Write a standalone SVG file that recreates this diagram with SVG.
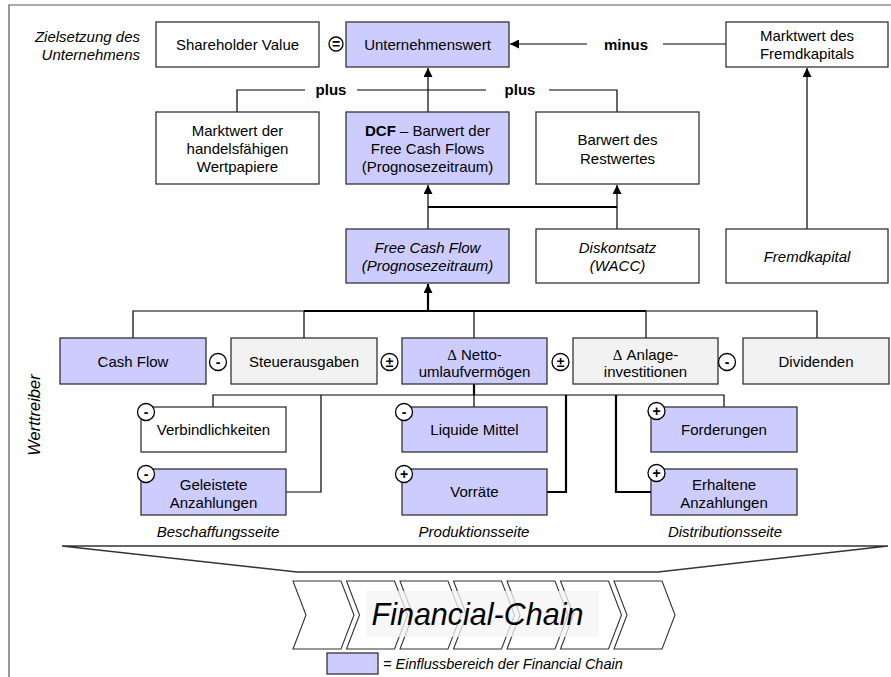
<svg xmlns="http://www.w3.org/2000/svg" width="891" height="677" viewBox="0 0 891 677">
<defs>
<marker id="ar" markerUnits="userSpaceOnUse" markerWidth="10" markerHeight="9" refX="9" refY="4.5" orient="auto">
<path d="M0,0 L9,4.5 L0,9 z" fill="#000"/>
</marker>
<style>
.bx{stroke:#333;stroke-width:1.3}
.p{fill:#ccccff}
.w{fill:#fff}
.g{fill:#f2f2f2}
text{font-family:"Liberation Sans",Arial,sans-serif;font-size:15px;fill:#000}
.t{text-anchor:middle}
.i{font-style:italic}
.b{font-weight:bold}
.d{font-family:"Liberation Serif","Times New Roman",serif}
.ln{fill:none;stroke:#000;stroke-width:1.2}
.th{fill:none;stroke:#000;stroke-width:2.2}
.sg circle{fill:#fff;stroke:#000;stroke-width:1.3}
.sg text{font-size:14px;font-weight:bold;text-anchor:middle}
.ch{fill:#fff;stroke:#333;stroke-width:1.1}
</style>
</defs>
<rect width="891" height="677" fill="#fff"/>
<path d="M9,677 V5 H891" fill="none" stroke="#555" stroke-width="1.2"/>

<text class="i" x="140" y="42" text-anchor="end">Zielsetzung des</text>
<text class="i" x="140" y="59.5" text-anchor="end">Unternehmens</text>
<text class="i" transform="translate(40,415) rotate(-90)" text-anchor="middle" style="font-size:16.5px">Werttreiber</text>

<g id="connectors">
<path class="ln" d="M587,44 H510" marker-end="url(#ar)"/>
<path class="ln" d="M663,44 H726"/>
<path class="ln" d="M237,112 V90 H305"/>
<path class="ln" d="M357,90 H486"/>
<path class="ln" d="M549,90 H617 V112"/>
<path class="ln" d="M428,112 V68" marker-end="url(#ar)"/>
<path class="ln" d="M807,229 V68" marker-end="url(#ar)"/>
<path class="ln" d="M428,229 V185" marker-end="url(#ar)"/>
<path class="ln" d="M617,229 V185" marker-end="url(#ar)"/>
<path class="th" d="M428,207 H617"/>
<path class="th" d="M428,311 V284" marker-end="url(#ar)"/>
<path class="ln" d="M133,338 V311 H304"/>
<path class="th" d="M304,311 H646"/>
<path class="ln" d="M646,311 H817 V338"/>
<path class="ln" d="M304,311 V338"/>
<path class="ln" d="M474,311 V338"/>
<path class="ln" d="M646,311 V338"/>
<path class="th" d="M474,384 V395"/>
<path class="ln" d="M213,407 V395 H724 V407"/>
<path class="ln" d="M474,395 V407"/>
<path class="ln" d="M321,395 V492 H286"/>
<path class="th" d="M566,395 V492 H547"/>
<path class="th" d="M616,395 V492 H651"/>
</g>

<text class="b t" x="626" y="49.5">minus</text>
<text class="b t" x="331" y="95">plus</text>
<text class="b t" x="520" y="95">plus</text>

<g id="n-shareholder"><rect class="bx w" x="156" y="22" width="163" height="45"/><text class="t" x="237.5" y="49.5">Shareholder Value</text></g>
<g id="s-eq" class="sg"><circle cx="336" cy="44" r="7"/><text x="336" y="48.5">=</text></g>
<g id="n-uwert"><rect class="bx p" x="346" y="22" width="163" height="45"/><text class="t" x="427.5" y="49.5">Unternehmenswert</text></g>
<g id="n-mwfk"><rect class="bx w" x="726" y="22" width="162" height="45"/><text class="t" x="807" y="41">Marktwert des</text><text class="t" x="807" y="59">Fremdkapitals</text></g>

<g id="n-wertpapiere"><rect class="bx w" x="156" y="112" width="163" height="72"/><text class="t" x="237.5" y="136">Marktwert der</text><text class="t" x="237.5" y="154">handelsfähigen</text><text class="t" x="237.5" y="172">Wertpapiere</text></g>
<g id="n-dcf"><rect class="bx p" x="346" y="112" width="163" height="72"/><text class="t" x="427.5" y="136"><tspan class="b">DCF</tspan> – Barwert der</text><text class="t" x="427.5" y="154">Free Cash Flows</text><text class="t" x="427.5" y="172">(Prognosezeitraum)</text></g>
<g id="n-restwert"><rect class="bx w" x="536" y="112" width="163" height="72"/><text class="t" x="617.5" y="145">Barwert des</text><text class="t" x="617.5" y="163.5">Restwertes</text></g>

<g id="n-fcf"><rect class="bx p" x="346" y="229" width="163" height="54"/><text class="t i" x="427.5" y="253">Free Cash Flow</text><text class="t i" x="427.5" y="270.5">(Prognosezeitraum)</text></g>
<g id="n-wacc"><rect class="bx w" x="536" y="229" width="163" height="54"/><text class="t i" x="617.5" y="253">Diskontsatz</text><text class="t i" x="617.5" y="270.5">(WACC)</text></g>
<g id="n-fk"><rect class="bx w" x="726" y="229" width="162" height="54"/><text class="t i" x="807" y="262">Fremdkapital</text></g>

<g id="n-cashflow"><rect class="bx p" x="60" y="338" width="146" height="46"/><text class="t" x="133" y="366.5">Cash Flow</text></g>
<g class="sg"><circle cx="218" cy="362" r="8.5"/><text x="218" y="367">-</text></g>
<g id="n-steuer"><rect class="bx g" x="231" y="338" width="146" height="46"/><text class="t" x="304" y="366.5">Steuerausgaben</text></g>
<g class="sg"><circle cx="389.5" cy="362" r="8.5"/><text x="389.5" y="367">±</text></g>
<g id="n-netto"><rect class="bx p" x="402" y="338" width="145" height="46"/><text class="t" x="474.5" y="359.5"><tspan class="d">Δ</tspan> Netto-</text><text class="t" x="474.5" y="376.5">umlaufvermögen</text></g>
<g class="sg"><circle cx="560.5" cy="362" r="8.5"/><text x="560.5" y="367">±</text></g>
<g id="n-anlage"><rect class="bx g" x="573" y="338" width="145" height="46"/><text class="t" x="645.5" y="359.5"><tspan class="d">Δ</tspan> Anlage-</text><text class="t" x="645.5" y="376.5">investitionen</text></g>
<g class="sg"><circle cx="727" cy="362" r="8.5"/><text x="727" y="367">-</text></g>
<g id="n-dividenden"><rect class="bx g" x="743" y="338" width="146" height="46"/><text class="t" x="816" y="366.5">Dividenden</text></g>

<g id="n-verb"><rect class="bx w" x="141" y="407" width="145" height="45"/><text class="t" x="213.5" y="435">Verbindlichkeiten</text></g>
<g class="sg"><circle cx="146" cy="412" r="8.5"/><text x="146" y="417">-</text></g>
<g id="n-gel"><rect class="bx p" x="141" y="469" width="145" height="46"/><text class="t" x="213.5" y="490">Geleistete</text><text class="t" x="213.5" y="507.5">Anzahlungen</text></g>
<g class="sg"><circle cx="146" cy="474" r="8.5"/><text x="146" y="479">-</text></g>
<g id="n-liq"><rect class="bx p" x="402" y="407" width="145" height="45"/><text class="t" x="474.5" y="435">Liquide Mittel</text></g>
<g class="sg"><circle cx="404" cy="412" r="8.5"/><text x="404" y="417">-</text></g>
<g id="n-vorr"><rect class="bx p" x="402" y="469" width="145" height="46"/><text class="t" x="474.5" y="497">Vorräte</text></g>
<g class="sg"><circle cx="404" cy="474" r="8.5"/><text x="404" y="479">+</text></g>
<g id="n-ford"><rect class="bx p" x="651" y="407" width="146" height="45"/><text class="t" x="724" y="435">Forderungen</text></g>
<g class="sg"><circle cx="656.5" cy="411" r="8.5"/><text x="656.5" y="416">+</text></g>
<g id="n-erh"><rect class="bx p" x="651" y="469" width="146" height="46"/><text class="t" x="724" y="490">Erhaltene</text><text class="t" x="724" y="507.5">Anzahlungen</text></g>
<g class="sg"><circle cx="656.5" cy="473" r="8.5"/><text x="656.5" y="478">+</text></g>

<text class="t i" x="218" y="537">Beschaffungsseite</text>
<text class="t i" x="474" y="537">Produktionsseite</text>
<text class="t i" x="725" y="537">Distributionsseite</text>

<g id="funnel"><polygon points="62,546 888,546 658,572 297,572" fill="#fff" stroke="#333" stroke-width="1.4"/></g>

<g id="chain">
<polygon class="ch" points="293,581 341,581 354,615 341,649 293,649 306,615"/>
<polygon class="ch" points="346.5,581 394.5,581 407.5,615 394.5,649 346.5,649 359.5,615"/>
<polygon class="ch" points="400,581 448,581 461,615 448,649 400,649 413,615"/>
<polygon class="ch" points="453.5,581 501.5,581 514.5,615 501.5,649 453.5,649 466.5,615"/>
<polygon class="ch" points="507,581 555,581 568,615 555,649 507,649 520,615"/>
<polygon class="ch" points="560.5,581 608.5,581 621.5,615 608.5,649 560.5,649 573.5,615"/>
<polygon class="ch" points="614,581 662,581 675,615 662,649 614,649 627,615"/>
<rect x="366" y="591" width="233" height="46" fill="#f4f4f4" fill-opacity="0.75"/>
<text class="t i" x="477.5" y="625" style="font-size:30.5px">Financial-Chain</text>
</g>

<g id="legend"><rect class="bx p" x="327" y="653" width="51" height="21"/><text class="i" x="383" y="669" style="font-size:14.5px">= Einflussbereich der Financial Chain</text></g>
</svg>
